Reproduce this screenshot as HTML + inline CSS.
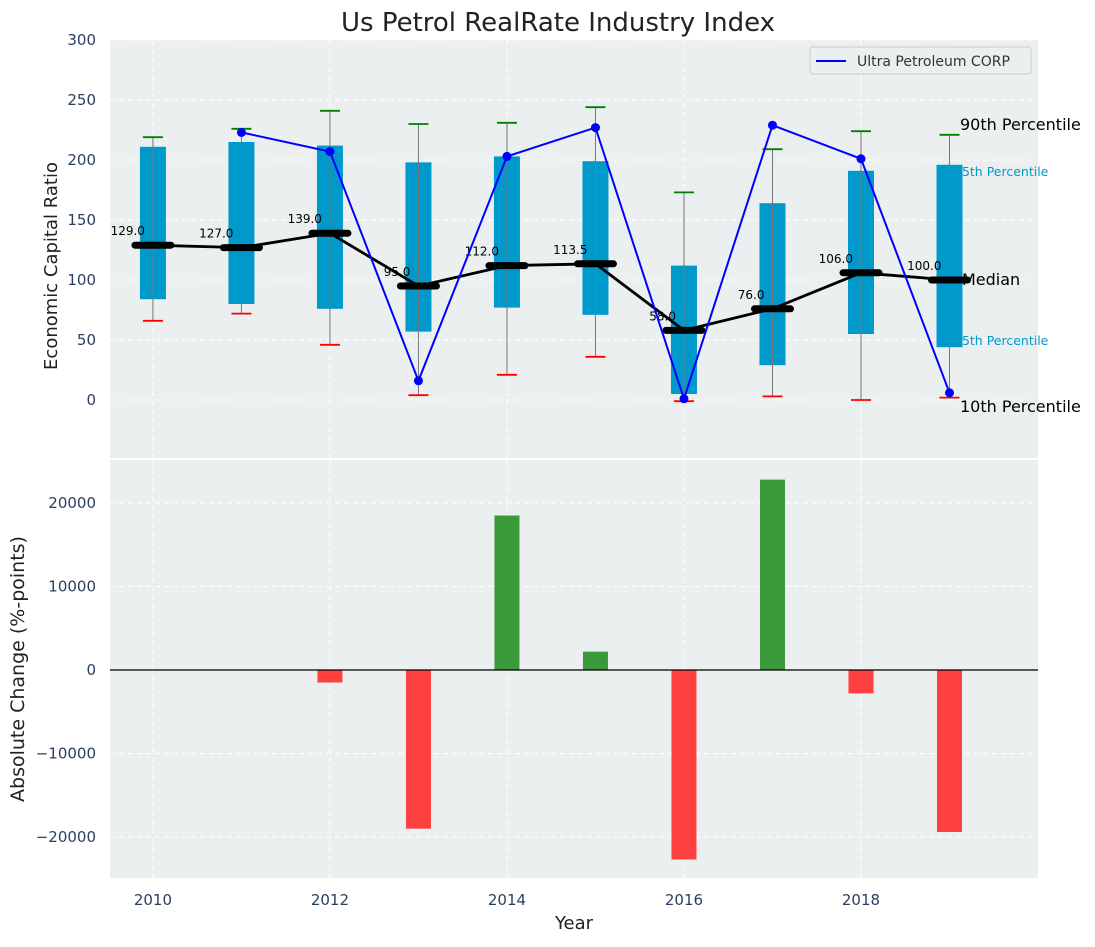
<!DOCTYPE html>
<html><head><meta charset="utf-8"><style>
body{margin:0;background:#fff;font-family:"Liberation Sans","DejaVu Sans",sans-serif}
svg text{font-family:"DejaVu Sans","Liberation Sans",sans-serif}
</style></head><body>
<svg id="c" width="1095" height="942" xmlns="http://www.w3.org/2000/svg"></svg>
<script>
const years=[2010,2011,2012,2013,2014,2015,2016,2017,2018,2019];
const medians=[129,127,139,95,112,113.5,58,76,106,100];
const boxLow=[84,80,76,57,77,71,5,29,55,44];
const boxHigh=[211,215,212,198,203,199,112,164,191,196];
const p90=[219,226,241,230,231,244,173,209,224,221];
const p10=[66,72,46,4,21,36,-1,3,0,2];
const companyYears=[2011,2012,2013,2014,2015,2016,2017,2018,2019];
const companyVals=[223,207,16,203,227,1,229,201,6];
const changes=[0,0,-1500,-19000,18500,2200,-22700,22800,-2800,-19400];
const topTicks=[0,50,100,150,200,250,300];
const botTicks=[-20000,-10000,0,10000,20000];
const xTicks=[2010,2012,2014,2016,2018];

const svg=document.getElementById('c');
const NS='http://www.w3.org/2000/svg';
function mk(t,a,txt){const e=document.createElementNS(NS,t);for(const k in a)e.setAttribute(k,a[k]);if(txt!==undefined)e.textContent=txt;svg.appendChild(e);return e;}
const X0=110,X1=1038;
const x=v=>X0+(v-2009.515)/(2020-2009.515)*(X1-X0);
const yT=v=>400-v*1.2;
const yB=v=>670-v*(167/20000);

let p=mk('rect',{x:X0,y:40,width:X1-X0,height:418,fill:'#ebeff0'});

p=mk('rect',{x:X0,y:460,width:X1-X0,height:418,fill:'#ebeff0'});


xTicks.forEach(t=>{
  let g=mk('line',{x1:x(t),x2:x(t),y1:40,y2:458,stroke:'#fff','stroke-dasharray':'5,4'});
  
  g=mk('line',{x1:x(t),x2:x(t),y1:460,y2:878,stroke:'#fff','stroke-dasharray':'5,4'});
  
  let l=mk('text',{x:x(t),y:905,'text-anchor':'middle','font-size':15,fill:'#2a3f5f'},t);
  
});
topTicks.forEach(t=>{
  let g=mk('line',{x1:X0,x2:X1,y1:yT(t),y2:yT(t),stroke:'#fff','stroke-dasharray':'5,4'});
  
  let l=mk('text',{x:96,y:yT(t)+5,'text-anchor':'end','font-size':15,fill:'#2a3f5f'},t);
  
});
botTicks.forEach(t=>{
  let g=mk('line',{x1:X0,x2:X1,y1:yB(t),y2:yB(t),stroke:'#fff','stroke-dasharray':'5,4'});
  
  let l=mk('text',{x:96,y:yB(t)+5,'text-anchor':'end','font-size':15,fill:'#2a3f5f'},t<0?'\u2212'+(-t):t);
  
});

let rl=mk('text',{x:954,y:176,'font-size':12.5,fill:'#0099cc'},'75th Percentile');

rl=mk('text',{x:954,y:345,'font-size':12.5,fill:'#0099cc'},'25th Percentile');


years.forEach((yr,i)=>{
  const cx=x(yr),w=26;
  let b=mk('rect',{x:cx-w/2,y:yT(boxHigh[i]),width:w,height:yT(boxLow[i])-yT(boxHigh[i]),fill:'#0099cc'});
  
  let wl=mk('line',{x1:cx,x2:cx,y1:yT(p90[i]),y2:yT(p10[i]),stroke:'#777','stroke-width':1});
  
  let c1=mk('line',{x1:cx-10,x2:cx+10,y1:yT(p90[i]),y2:yT(p90[i]),stroke:'green','stroke-width':1.8});
  
  let c2=mk('line',{x1:cx-10,x2:cx+10,y1:yT(p10[i]),y2:yT(p10[i]),stroke:'red','stroke-width':1.8});
  
});
let ml=mk('polyline',{points:years.map((yr,i)=>x(yr)+','+yT(medians[i])).join(' '),fill:'none',stroke:'#000','stroke-width':2.8});

years.forEach((yr,i)=>{
  const cx=x(yr),cy=yT(medians[i]);
  let m=mk('line',{x1:cx-18,x2:cx+18,y1:cy,y2:cy,stroke:'#000','stroke-width':7,'stroke-linecap':'round'});
  
  let t=mk('text',{x:cx-8,y:cy-10,'text-anchor':'end','font-size':12,fill:'#000'},medians[i].toFixed(1));
  
});
let cl=mk('polyline',{points:companyYears.map((yr,i)=>x(yr)+','+yT(companyVals[i])).join(' '),fill:'none',stroke:'blue','stroke-width':2});

companyYears.forEach((yr,i)=>{
  let d=mk('circle',{cx:x(yr),cy:yT(companyVals[i]),r:4.5,fill:'blue'});
  
});
[['90th Percentile',960,130,'p90-label'],['Median',962,285,'median-label'],['10th Percentile',960,412,'p10-label']].forEach(a=>{
  let t=mk('text',{x:a[1],y:a[2],'font-size':16,fill:'#000'},a[0]);
  
});
let lg=mk('rect',{x:810,y:47,width:221,height:27,fill:'#ebeff0',stroke:'#ccc',rx:3});

let ll=mk('line',{x1:816,x2:846,y1:61,y2:61,stroke:'blue','stroke-width':2});

let lt=mk('text',{x:857,y:66,'font-size':14,fill:'#333'},'Ultra Petroleum CORP');


years.forEach((yr,i)=>{
  const v=changes[i];if(!v)return;
  const y0=yB(0),y1=yB(v);
  let b=mk('rect',{x:x(yr)-12.5,y:Math.min(y0,y1),width:25,height:Math.abs(y1-y0),fill:v>0?'#3a9a3a':'#ff4040'});
  
});
let zl=mk('line',{x1:X0,x2:X1,y1:yB(0),y2:yB(0),stroke:'#000','stroke-width':1.2});


let tt=mk('text',{x:558,y:31,'text-anchor':'middle','font-size':26,fill:'#222'},'Us Petrol RealRate Industry Index');

let ya=mk('text',{x:57,y:266,'text-anchor':'middle','font-size':18,fill:'#222',transform:'rotate(-90 57 266)'},'Economic Capital Ratio');

let yb=mk('text',{x:24,y:669,'text-anchor':'middle','font-size':19,fill:'#222',transform:'rotate(-90 24 669)'},'Absolute Change (%-points)');

let xa=mk('text',{x:574,y:929,'text-anchor':'middle','font-size':18,fill:'#222'},'Year');

</script>
</body></html>
